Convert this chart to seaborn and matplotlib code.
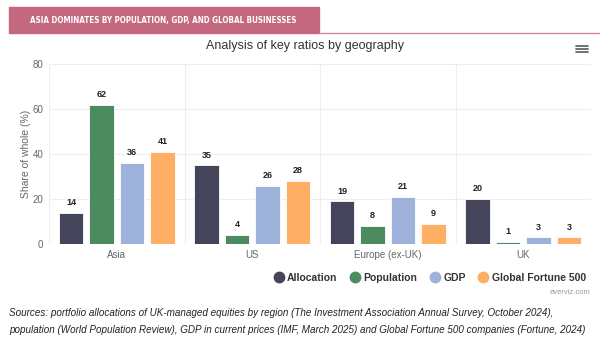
import matplotlib
matplotlib.use("Agg")
import matplotlib.pyplot as plt
from matplotlib.lines import Line2D
from matplotlib.patches import Rectangle
import seaborn as sns
import pandas as pd

regions = ["Asia", "US", "Europe (ex-UK)", "UK"]
series = ["Allocation", "Population", "GDP", "Global Fortune 500"]
allocation = [14, 35, 19, 20]
population = [62, 4, 8, 1]
gdp = [36, 26, 21, 3]
fortune500 = [41, 28, 9, 3]
colors = ["#44455a", "#4c8b5f", "#9fb2dc", "#ffae66"]
y_ticks = [0, 20, 40, 60, 80]

df = pd.DataFrame({
    "region": regions * 4,
    "series": [s for s in series for _ in regions],
    "value": allocation + population + gdp + fortune500,
})

sns.set_theme(style="white")
plt.rcParams["font.family"] = ["Liberation Sans", "DejaVu Sans"]

W, H = 600, 347
fig = plt.figure(figsize=(W / 100, H / 100), dpi=100)
ax = fig.add_axes([49 / W, 1 - 244 / H, (591 - 49) / W, (244 - 64) / H])

sns.barplot(data=df, x="region", y="value", hue="series", hue_order=series,
            order=regions, palette=colors, width=0.9, gap=0.2,
            edgecolor="white", linewidth=0.6, saturation=1, ax=ax, legend=False)

for cont in ax.containers:
    ax.bar_label(cont, fmt="%g", padding=4, fontsize=6.5, fontweight="bold",
                 color="#222222")

ax.set_ylim(0, 80)
ax.set_xlim(-0.5, 3.5)
ax.set_yticks(y_ticks)
ax.set_xticks(range(len(regions)))
ax.set_xticklabels(regions)
ax.set_xticks([-0.5, 0.5, 1.5, 2.5, 3.5], minor=True)
ax.grid(axis="y", color="#eeeeee", linewidth=0.8)
ax.grid(axis="x", which="minor", color="#eeeeee", linewidth=0.8)
ax.set_axisbelow(True)
for s in ax.spines.values():
    s.set_visible(False)
ax.axhline(0, color="#e2e2e2", linewidth=0.8, zorder=0)
ax.tick_params(axis="x", which="minor", length=5, color="#e2e2e2", width=0.8)
ax.tick_params(axis="x", which="major", length=0, labelsize=7, labelcolor="#666666", pad=4)
ax.tick_params(axis="y", length=0, labelsize=7, labelcolor="#666666", pad=4)
ax.set_xlabel("")
ax.set_ylabel("Share of whole (%)", fontsize=7.5, color="#666666", labelpad=1)

# header tab
fig.patches.append(Rectangle((9 / W, 1 - 33 / H), (319 - 9) / W, 26 / H,
                             transform=fig.transFigure, color="#c3687f", zorder=1))
fig.add_artist(Line2D([319 / W, 1], [1 - 32.5 / H, 1 - 32.5 / H], color="#cf8a9c",
                      linewidth=1, transform=fig.transFigure))
head = fig.text(30 / W, 1 - 20 / H,
                "ASIA DOMINATES BY POPULATION, GDP, AND GLOBAL BUSINESSES",
                fontsize=7, fontweight="bold", color="white", va="center",
                family="DejaVu Sans", fontstretch="condensed")
# shrink the header text so it sits inside the tab
renderer = fig.canvas.get_renderer()
wpx = head.get_window_extent(renderer).width
if wpx > 268:
    head.set_fontsize(7 * 268 / wpx)

fig.text(305 / W, 1 - 46 / H, "Analysis of key ratios by geography",
         fontsize=9, color="#333333", ha="center", va="center")

# menu icon
for yy in (46, 49, 52):
    fig.add_artist(Line2D([576 / W, 588 / W], [1 - yy / H, 1 - yy / H],
                          color="#666666", linewidth=1.3, transform=fig.transFigure))

handles = [Line2D([], [], marker="o", linestyle="", markersize=7.5,
                  markerfacecolor=c, markeredgecolor=c) for c in colors]
leg = fig.legend(handles, series, loc="center right", ncol=4, frameon=False,
                 bbox_to_anchor=(590 / W, 1 - 278 / H), handletextpad=0.2,
                 columnspacing=1.1, handlelength=1.2, borderaxespad=0,
                 prop={"size": 7.5, "weight": "bold"})
for t in leg.get_texts():
    t.set_color("#333333")

fig.text(590 / W, 1 - 293 / H, "everviz.com", fontsize=5.5, color="#999999",
         ha="right", va="center")

src = ("Sources: portfolio allocations of UK-managed equities by region "
       "(The Investment Association Annual Survey, October 2024),\n"
       "population (World Population Review), GDP in current prices "
       "(IMF, March 2025) and Global Fortune 500 companies (Fortune, 2024)")
fig.text(9 / W, 1 - 321.5 / H, src, fontsize=7.1, style="italic", color="#222222",
         va="center", linespacing=1.8)

fig.savefig("out.png", dpi=100, facecolor="white")
